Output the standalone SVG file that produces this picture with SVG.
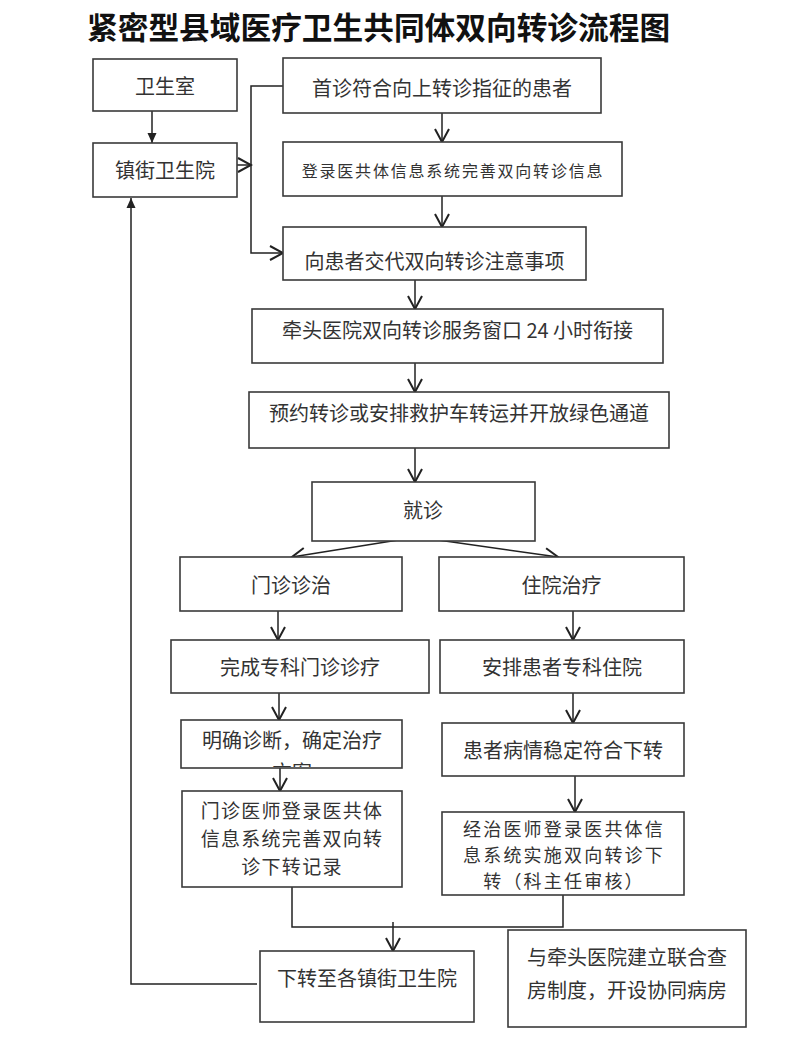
<svg xmlns="http://www.w3.org/2000/svg" width="800" height="1061" viewBox="0 0 800 1061">
<style>
.box{fill:#fff;stroke:#3a3a3a;stroke-width:1.6}
.t{font-family:"Noto Sans CJK SC","Noto Sans",sans-serif;font-size:20px;fill:#333;text-anchor:middle}
.s{font-size:16px;letter-spacing:1.8px}
.m19{font-size:19px;letter-spacing:1.3px}
.m18{font-size:18px;letter-spacing:2.2px}
.title{font-family:"Noto Sans CJK SC","Noto Sans",sans-serif;font-size:30.7px;font-weight:bold;fill:#111}
.ln{fill:none;stroke:#222;stroke-width:1.5}
</style>
<defs>
<marker id="chev" viewBox="-15 -9 17 18" refX="0" refY="0" markerWidth="17" markerHeight="18" orient="auto" markerUnits="userSpaceOnUse">
<path d="M-13,-7 L0,0 L-13,7" fill="none" stroke="#222" stroke-width="2"/>
</marker>
<marker id="tri" viewBox="-11 -6 12 12" refX="0" refY="0" markerWidth="12" markerHeight="12" orient="auto" markerUnits="userSpaceOnUse">
<path d="M-10,-4.5 L0,0 L-10,4.5 Z" fill="#222"/>
</marker>
<clipPath id="clipMq"><rect x="182" y="721" width="219" height="46"/></clipPath>
</defs>
<rect width="800" height="1061" fill="#fff"/>
<text class="title" x="87" y="39">紧密型县域医疗卫生共同体双向转诊流程图</text>

<g id="connectors">
<path class="ln" d="M152,111 V143" marker-end="url(#tri)"/>
<path class="ln" d="M234,165 H251" marker-end="url(#chev)"/>
<path class="ln" d="M283,86 H251 V253 H283" marker-end="url(#chev)"/>
<path class="ln" d="M442,113 V142" marker-end="url(#chev)"/>
<path class="ln" d="M442,196 V227" marker-end="url(#chev)"/>
<path class="ln" d="M415,280 V309" marker-end="url(#chev)"/>
<path class="ln" d="M415,363 V392" marker-end="url(#chev)"/>
<path class="ln" d="M415,448 V482" marker-end="url(#chev)"/>
<path class="ln" d="M417,537 L292,557" marker-end="url(#chev)"/>
<path class="ln" d="M417,537 L558,557" marker-end="url(#chev)"/>
<path class="ln" d="M278,611 V640" marker-end="url(#chev)"/>
<path class="ln" d="M573,611 V640" marker-end="url(#chev)"/>
<path class="ln" d="M279,693 V720" marker-end="url(#chev)"/>
<path class="ln" d="M573,693 V723" marker-end="url(#chev)"/>
<path class="ln" d="M280,768 V791" marker-end="url(#chev)"/>
<path class="ln" d="M575,776 V812" marker-end="url(#chev)"/>
<path class="ln" d="M292,887 V927 H563 V895"/>
<path class="ln" d="M393,922 V951" marker-end="url(#chev)"/>
<path class="ln" d="M257,984 H131 V198" marker-end="url(#tri)"/>
</g>

<g id="n-wss">
<rect class="box" x="93" y="59" width="144" height="52"/>
<text class="t" x="165" y="94">卫生室</text>
</g>
<g id="n-zjwsy">
<rect class="box" x="93" y="143" width="144" height="54"/>
<text class="t" x="165" y="178">镇街卫生院</text>
</g>
<g id="n-sz">
<rect class="box" x="283" y="58" width="318" height="55"/>
<text class="t" x="442" y="96">首诊符合向上转诊指征的患者</text>
</g>
<g id="n-dl">
<rect class="box" x="283" y="142" width="339" height="54"/>
<text class="t s" x="453" y="177">登录医共体信息系统完善双向转诊信息</text>
</g>
<g id="n-xhz">
<rect class="box" x="283" y="227" width="303" height="53"/>
<text class="t" x="434.5" y="269">向患者交代双向转诊注意事项</text>
</g>
<g id="n-qt">
<rect class="box" x="252" y="309" width="411" height="54"/>
<text class="t" x="457.5" y="338">牵头医院双向转诊服务窗口 24 小时衔接</text>
</g>
<g id="n-yy">
<rect class="box" x="249" y="392" width="420" height="56"/>
<text class="t" x="459" y="421">预约转诊或安排救护车转运并开放绿色通道</text>
</g>
<g id="n-jz">
<rect class="box" x="312" y="482" width="223" height="59"/>
<text class="t" x="423" y="518">就诊</text>
</g>
<g id="n-mzzz">
<rect class="box" x="180" y="557" width="222" height="54"/>
<text class="t" x="291" y="593">门诊诊治</text>
</g>
<g id="n-zyzl">
<rect class="box" x="439" y="557" width="245" height="54"/>
<text class="t" x="561.5" y="593">住院治疗</text>
</g>
<g id="n-wc">
<rect class="box" x="171" y="640" width="258" height="53"/>
<text class="t" x="300" y="675">完成专科门诊诊疗</text>
</g>
<g id="n-ap">
<rect class="box" x="440" y="640" width="244" height="53"/>
<text class="t" x="562" y="675">安排患者专科住院</text>
</g>
<g id="n-mq">
<rect class="box" x="181" y="720" width="221" height="48"/>
<text class="t" x="292" y="748">明确诊断，确定治疗</text>
<text class="t" x="292" y="780" clip-path="url(#clipMq)">方案</text>
</g>
<g id="n-hz">
<rect class="box" x="442" y="723" width="242" height="53"/>
<text class="t" x="563" y="758">患者病情稳定符合下转</text>
</g>
<g id="n-mzys">
<rect class="box" x="182" y="791" width="220" height="96"/>
<text class="t m19" x="292" y="818">门诊医师登录医共体</text>
<text class="t m19" x="292" y="846">信息系统完善双向转</text>
<text class="t m19" x="292" y="874">诊下转记录</text>
</g>
<g id="n-jzys">
<rect class="box" x="442" y="812" width="242" height="83"/>
<text class="t m18" x="564" y="836">经治医师登录医共体信</text>
<text class="t m18" x="564" y="862">息系统实施双向转诊下</text>
<text class="t m18" x="564" y="888">转（科主任审核）</text>
</g>
<g id="n-xz">
<rect class="box" x="260" y="951" width="214" height="71"/>
<text class="t" x="367" y="986">下转至各镇街卫生院</text>
</g>
<g id="n-lh">
<rect class="box" x="508" y="930" width="238" height="97"/>
<text class="t" x="627" y="965">与牵头医院建立联合查</text>
<text class="t" x="627" y="998">房制度，开设协同病房</text>
</g>
</svg>
